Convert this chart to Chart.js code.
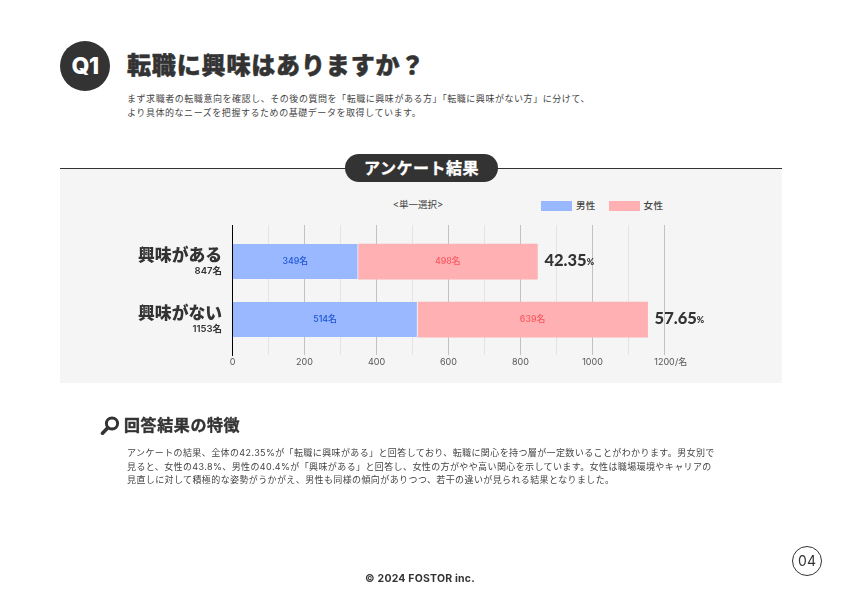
<!DOCTYPE html>
<html lang="ja">
<head>
<meta charset="utf-8">
<title>Q1</title>
<script src="https://cdn.jsdelivr.net/npm/chart.js@4/dist/chart.umd.min.js"></script>
<style>
  * { margin: 0; padding: 0; box-sizing: border-box; }
  html, body { width: 842px; height: 595px; background: #fff; overflow: hidden; }
  body { position: relative; font-family: "Inter", "Noto Sans CJK JP", sans-serif; color: #333; }
  .abs { position: absolute; white-space: nowrap; }
  #panel { left: 60px; top: 168px; width: 722px; height: 215px; background: #f5f5f5; border-top: 1px solid #333; }
  #q1 { left: 60px; top: 41px; width: 50px; height: 50px; border-radius: 50%; background: #333; color: #fff;
        font-size: 23px; font-weight: 800; line-height: 50px; text-align: center; letter-spacing: -0.5px; }
  #titre { left: 127px; top: 49px; font-size: 24px; line-height: 34px; font-weight: 900; letter-spacing: 0.85px; -webkit-text-stroke: 0.5px #333; }
  #intro { left: 127px; top: 92px; font-size: 9px; line-height: 13.5px; letter-spacing: 0.55px; color: #444; }
  #pill { left: 345px; top: 154px; width: 153px; height: 28px; border-radius: 14px; background: #333; color: #fff;
          font-size: 16px; font-weight: 700; line-height: 28px; text-align: center; letter-spacing: 0.5px; -webkit-text-stroke: 0.3px #fff; }
  #select { left: 360px; width: 116px; top: 198px; text-align: center; font-size: 9.5px; line-height: 14px; color: #444; }
  #legend { left: 541px; top: 199px; display: flex; align-items: center; font-size: 9.5px; font-weight: 500; line-height: 14px; color: #444; }
  #legend span.box { display: inline-block; width: 31px; height: 10px; margin-right: 4px; }
  #legend span.txt { margin-right: 13px; letter-spacing: 0.3px; }
  #loupe { left: 100px; top: 416px; }
  #section { left: 124px; top: 414px; font-size: 16px; line-height: 22px; font-weight: 700; letter-spacing: 0.6px; -webkit-text-stroke: 0.4px #333; }
  #texte { left: 127px; top: 446px; font-size: 9px; line-height: 13.5px; letter-spacing: 0.39px; color: #444; }
  #copyright { left: 320px; width: 200px; top: 572px; text-align: center; font-size: 10.5px; line-height: 14px; font-weight: 700; letter-spacing: 0.2px; }
  #page { left: 792px; top: 546px; width: 30px; height: 30px; border: 1px solid #333; border-radius: 50%;
          text-align: center; font-size: 14px; line-height: 28px; }
  #myChart { position: absolute; left: 0; top: 0; }
</style>
</head>
<body>
<div class="abs" id="panel"></div>
<div class="abs" id="q1">Q1</div>
<div class="abs" id="titre">転職に興味はありますか？</div>
<div class="abs" id="intro">まず求職者の転職意向を確認し、その後の質問を「転職に興味がある方」「転職に興味がない方」に分けて、<br>より具体的なニーズを把握するための基礎データを取得しています。</div>
<div class="abs" id="pill">アンケート結果</div>
<div class="abs" id="select">&lt;単一選択&gt;</div>
<div class="abs" id="legend"></div>
<canvas id="myChart" width="842" height="595"></canvas>
<svg class="abs" id="loupe" width="20" height="20" viewBox="0 0 20 20">
  <circle cx="12" cy="7.5" r="5.6" fill="none" stroke="#333" stroke-width="3"/>
  <line x1="7.8" y1="11.8" x2="2.5" y2="17.2" stroke="#333" stroke-width="3.6" stroke-linecap="round"/>
</svg>
<div class="abs" id="section">回答結果の特徴</div>
<div class="abs" id="texte">アンケートの結果、全体の42.35%が「転職に興味がある」と回答しており、転職に関心を持つ層が一定数いることがわかります。男女別で<br>見ると、女性の43.8%、男性の40.4%が「興味がある」と回答し、女性の方がやや高い関心を示しています。女性は職場環境やキャリアの<br>見直しに対して積極的な姿勢がうかがえ、男性も同様の傾向がありつつ、若干の違いが見られる結果となりました。</div>
<div class="abs" id="copyright">© 2024 FOSTOR inc.</div>
<div class="abs" id="page">04</div>

<script>
//? Données du graphique.

const categories = ["興味がある", "興味がない"];
const totals = ["847名", "1153名"];
const percents = ["42.35", "57.65"];
const maleValues = [349, 514];
const femaleValues = [498, 639];
const seriesNames = ["男性", "女性"];

const fontFamily = '"Inter", "Noto Sans CJK JP", sans-serif';
const blue = "#99b8ff";
const pink = "#ffb0b3";

//? -------------------------------------------------

//? Textes dessinés par-dessus le graphique.

const textesPlugin = {
  id: "textes",
  afterDatasetsDraw(chart) {
    const ctx = chart.ctx;
    const xScale = chart.scales.x;
    const yScale = chart.scales.y;
    ctx.save();
    ctx.textBaseline = "middle";

    categories.forEach((categorie, i) => {
      const yPos = yScale.getPixelForValue(i);

      // libellés à gauche
      ctx.textAlign = "right";
      ctx.fillStyle = "#333";
      ctx.font = `900 16.8px ${fontFamily}`;
      ctx.fillText(categorie, 222, yPos - 6);
      ctx.font = `600 9.5px ${fontFamily}`;
      ctx.fillText(totals[i], 222, yPos + 10);

      // valeurs dans les barres
      ctx.textAlign = "center";
      ctx.font = `500 8.8px ${fontFamily}`;
      ctx.fillStyle = "#1f55d6";
      ctx.fillText(maleValues[i] + "名", xScale.getPixelForValue(maleValues[i] / 2), yPos);
      ctx.fillStyle = "#f9585e";
      ctx.fillText(
        femaleValues[i] + "名",
        xScale.getPixelForValue(maleValues[i] + femaleValues[i] / 2),
        yPos
      );

      // pourcentage au bout de la barre
      const xFin = xScale.getPixelForValue(maleValues[i] + femaleValues[i]) + 7;
      ctx.textAlign = "left";
      ctx.fillStyle = "#333";
      ctx.font = `900 16.5px Lato, ${fontFamily}`;
      ctx.fillText(percents[i], xFin, yPos - 1);
      const largeur = ctx.measureText(percents[i]).width;
      ctx.font = `900 9px Lato, ${fontFamily}`;
      ctx.fillText("%", xFin + largeur, yPos + 1);
    });

    // unité de l'axe
    ctx.textAlign = "left";
    ctx.font = `400 9px ${fontFamily}`;
    ctx.fillStyle = "#555";
    ctx.fillText("/名", xScale.getPixelForValue(1200) + 10.5, xScale.top + 7);
    ctx.restore();
  },
};

//? -------------------------------------------------

//? Construction du graphique.

const ctx = document.getElementById("myChart").getContext("2d");

const myChart = new Chart(ctx, {
  type: "bar",
  data: {
    datasets: [
      {
        label: seriesNames[0],
        data: maleValues.map((v, i) => ({ x: v, y: i })),
        backgroundColor: blue,
        borderColor: "#f5f5f5",
        borderWidth: { right: 1 },
        borderSkipped: false,
        barThickness: 35,
      },
      {
        label: seriesNames[1],
        data: femaleValues.map((v, i) => ({ x: v, y: i })),
        backgroundColor: pink,
        borderWidth: 0,
        barThickness: 35,
      },
    ],
  },
  options: {
    indexAxis: "y",
    responsive: false,
    animation: { duration: 0 },
    layout: { padding: { left: 232.5, right: 177.5, top: 225, bottom: 220 } },
    plugins: {
      legend: { display: false },
      tooltip: { enabled: false },
    },
    scales: {
      x: {
        type: "linear",
        stacked: true,
        min: 0,
        max: 1200,
        afterFit: (scale) => {
          scale.height = 20;
        },
        border: { display: false },
        grid: {
          drawTicks: false,
          lineWidth: 1,
          color: (c) => (c.tick.value % 200 === 0 ? "#c2c2c2" : "#e4e4e4"),
        },
        ticks: {
          stepSize: 100,
          autoSkip: false,
          maxRotation: 0,
          padding: 2,
          color: "#555",
          font: { family: fontFamily, size: 9 },
          callback: (v) => (v % 200 === 0 ? String(v) : ""),
        },
      },
      y: {
        type: "linear",
        stacked: true,
        reverse: true,
        offset: false,
        min: -0.63,
        max: 1.611,
        afterFit: (scale) => {
          scale.width = 0;
        },
        grid: { display: false, offset: false },
        border: { display: true, color: "#000", width: 1 },
        ticks: { display: false },
      },
    },
  },
  plugins: [textesPlugin],
});

//? -------------------------------------------------

//? Légende HTML à partir des datasets.

const legende = document.getElementById("legend");
myChart.data.datasets.forEach((dataset) => {
  const box = document.createElement("span");
  box.className = "box";
  box.style.background = dataset.backgroundColor;
  const txt = document.createElement("span");
  txt.className = "txt";
  txt.textContent = dataset.label;
  legende.append(box, txt);
});
</script>
</body>
</html>
